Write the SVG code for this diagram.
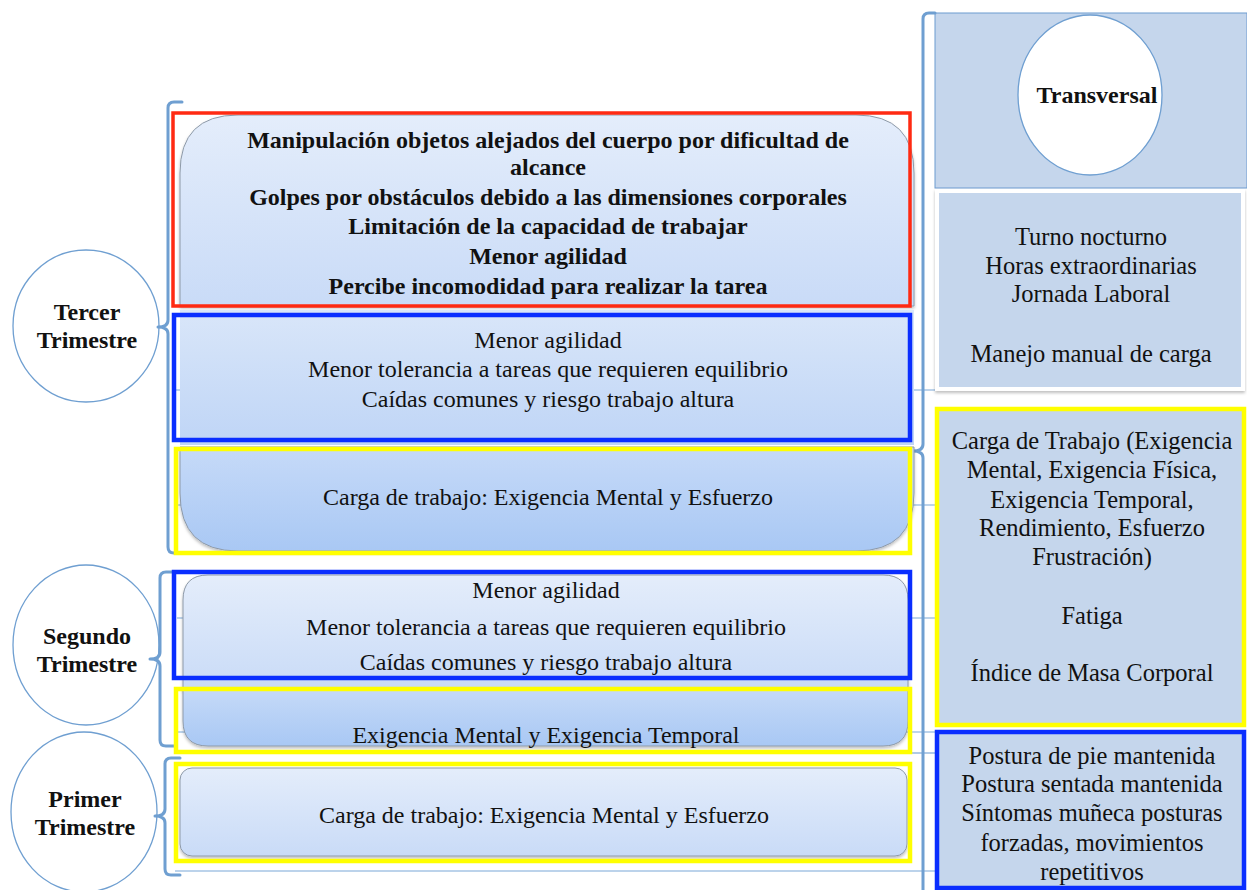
<svg xmlns="http://www.w3.org/2000/svg" width="1247" height="890" viewBox="0 0 1247 890">
  <defs>
    <linearGradient id="gLight" x1="0" y1="0" x2="0" y2="1">
      <stop offset="0" stop-color="#e4edfb"/>
      <stop offset="1" stop-color="#c9dbf7"/>
    </linearGradient>
    <linearGradient id="gMid" x1="0" y1="0" x2="0" y2="1">
      <stop offset="0" stop-color="#d9e6f9"/>
      <stop offset="1" stop-color="#bfd5f6"/>
    </linearGradient>
    <linearGradient id="gDark" x1="0" y1="0" x2="0" y2="1">
      <stop offset="0" stop-color="#c6daf8"/>
      <stop offset="1" stop-color="#a9c8f4"/>
    </linearGradient>
    <filter id="shadow" x="-5%" y="-5%" width="110%" height="115%">
      <feDropShadow dx="0" dy="2" stdDeviation="1.5" flood-color="#000" flood-opacity="0.25"/>
    </filter>
  </defs>
  <style>
    text { font-family: "Liberation Serif", "Times New Roman", serif; font-size: 24px; fill: #111; text-anchor: middle; }
    .b { font-weight: bold; }
    .r { font-size: 24.5px; }
    .brk { fill: none; stroke: #6f9fd1; stroke-width: 3; stroke-linejoin: round; stroke-linecap: round; }
    .circ { fill: #fff; stroke: #6f9fd1; stroke-width: 1.3; }
    .item { stroke: #8e9aa8; stroke-width: 1; filter: url(#shadow); }
    .conn { fill: none; stroke: #7ba7d7; stroke-width: 1.2; }
    .red { fill: none; stroke: #ff2a12; stroke-width: 3.5; }
    .blue { fill: none; stroke: #0a2eff; stroke-width: 4.5; }
    .yel { fill: none; stroke: #ffff00; stroke-width: 4.5; }
    .panel { fill: #c5d6ec; }
  </style>

  <rect width="1247" height="890" fill="#fff"/>

  <!-- separator lines of the bracket lists -->
  <g id="connectors">
    <line class="conn" x1="175" y1="390" x2="935" y2="390"/>
    <line class="conn" x1="177" y1="505" x2="935" y2="505"/>
    <line class="conn" x1="177" y1="618" x2="935" y2="618"/>
    <line class="conn" x1="177" y1="732" x2="935" y2="732"/>
    <line class="conn" x1="905" y1="753" x2="935" y2="753"/>
    <line class="conn" x1="175" y1="871" x2="935" y2="871"/>
  </g>

  <!-- right column: Transversal -->
  <g id="transversal">
    <rect class="panel" x="935" y="13" width="312" height="175" stroke="#6d9bd0" stroke-width="1"/>
    <path class="brk" d="M935 13 H929 Q923 13 923 19 V444 Q923 451 913 451 Q923 451 923 458 V890"/>
    <ellipse class="circ" cx="1090" cy="95" rx="72" ry="80"/>
    <text class="b" x="1097" y="103">Transversal</text>
  </g>

  <g id="t-jornada">
    <rect class="panel" x="937" y="191" width="306" height="198" stroke="#fff" stroke-width="4" filter="url(#shadow)"/>
    <text class="r" x="1091" y="245">Turno nocturno</text>
    <text class="r" x="1091" y="274">Horas extraordinarias</text>
    <text class="r" x="1091" y="302">Jornada Laboral</text>
    <text class="r" x="1091" y="362">Manejo manual de carga</text>
  </g>

  <g id="t-carga">
    <rect class="panel" x="937" y="409" width="307" height="316"/>
    <rect class="yel" x="937" y="409" width="307" height="316"/>
    <text class="r" x="1092" y="449">Carga de Trabajo (Exigencia</text>
    <text class="r" x="1092" y="478">Mental, Exigencia Física,</text>
    <text class="r" x="1092" y="508">Exigencia Temporal,</text>
    <text class="r" x="1092" y="536">Rendimiento, Esfuerzo</text>
    <text class="r" x="1092" y="565">Frustración)</text>
    <text class="r" x="1092" y="624">Fatiga</text>
    <text class="r" x="1092" y="681">Índice de Masa Corporal</text>
  </g>

  <g id="t-postura">
    <rect class="panel" x="937" y="732" width="307" height="156"/>
    <rect class="blue" x="937" y="732" width="307" height="156"/>
    <text class="r" x="1092" y="764">Postura de pie mantenida</text>
    <text class="r" x="1092" y="792">Postura sentada mantenida</text>
    <text class="r" x="1092" y="821">Síntomas muñeca posturas</text>
    <text class="r" x="1092" y="851">forzadas, movimientos</text>
    <text class="r" x="1092" y="880">repetitivos</text>
  </g>

  <!-- Tercer Trimestre -->
  <g id="tercer">
    <ellipse class="circ" cx="86" cy="326" rx="73" ry="76"/>
    <text class="b" x="87" y="320">Tercer</text>
    <text class="b" x="87" y="348">Trimestre</text>
    <path class="brk" d="M182 102 H174 Q168 102 168 108 V320 Q168 327 158 327 Q168 327 168 334 V547 Q168 553 174 553 H182"/>
  </g>

  <g id="tercer-1">
    <path class="item" fill="url(#gLight)" d="M180 306 V173 Q180 115 238 115 H856 Q914 115 914 173 V306 Z"/>
    <rect class="red" x="173" y="113" width="737" height="193"/>
    <text class="b" x="548" y="148">Manipulación objetos alejados del cuerpo por dificultad de</text>
    <text class="b" x="548" y="175">alcance</text>
    <text class="b" x="548" y="205">Golpes por obstáculos debido a las dimensiones corporales</text>
    <text class="b" x="548" y="234">Limitación de la capacidad de trabajar</text>
    <text class="b" x="548" y="264">Menor agilidad</text>
    <text class="b" x="548" y="294">Percibe incomodidad para realizar la tarea</text>
  </g>

  <g id="tercer-2">
    <rect fill="url(#gMid)" x="180" y="310" width="734" height="135"/>
    <rect class="blue" x="174" y="315" width="736" height="125"/>
    <text x="548" y="348">Menor agilidad</text>
    <text x="548" y="377">Menor tolerancia a tareas que requieren equilibrio</text>
    <text x="548" y="407">Caídas comunes y riesgo trabajo altura</text>
  </g>

  <g id="tercer-3">
    <path class="item" fill="url(#gDark)" d="M180 447 V493 Q180 551 238 551 H856 Q914 551 914 493 V447 Z"/>
    <rect class="yel" x="176" y="449" width="734" height="104"/>
    <text x="548" y="505">Carga de trabajo: Exigencia Mental y Esfuerzo</text>
  </g>

  <!-- Segundo Trimestre -->
  <g id="segundo">
    <ellipse class="circ" cx="86" cy="645" rx="73" ry="80"/>
    <text class="b" x="87" y="644">Segundo</text>
    <text class="b" x="87" y="672">Trimestre</text>
    <path class="brk" d="M175 572 H166 Q160 572 160 578 V652 Q160 659 150 659 Q160 659 160 666 V740 Q160 746 166 746 H175"/>
  </g>

  <g id="segundo-1">
    <path class="item" fill="url(#gLight)" d="M183 690 V600 Q183 575 208 575 H883 Q908 575 908 600 V690 Z"/>
    <rect class="blue" x="174" y="572" width="736" height="106"/>
    <text x="546" y="598">Menor agilidad</text>
    <text x="546" y="635">Menor tolerancia a tareas que requieren equilibrio</text>
    <text x="546" y="670">Caídas comunes y riesgo trabajo altura</text>
  </g>

  <g id="segundo-2">
    <path class="item" fill="url(#gDark)" d="M183 688 V721 Q183 746 208 746 H883 Q908 746 908 721 V688 Z"/>
    <rect class="yel" x="176" y="689" width="734" height="63"/>
    <text x="546" y="743">Exigencia Mental y Exigencia Temporal</text>
  </g>

  <!-- Primer Trimestre -->
  <g id="primer">
    <ellipse class="circ" cx="84" cy="812" rx="73" ry="80"/>
    <text class="b" x="85" y="807">Primer</text>
    <text class="b" x="85" y="835">Trimestre</text>
    <path class="brk" d="M180 758 H171 Q165 758 165 764 V809 Q165 816 155 816 Q165 816 165 823 V869 Q165 875 171 875 H180"/>
  </g>

  <g id="primer-1">
    <rect class="item" fill="url(#gLight)" x="180" y="768" width="727" height="88" rx="12"/>
    <rect class="yel" x="176" y="764" width="734" height="97"/>
    <text x="544" y="823">Carga de trabajo: Exigencia Mental y Esfuerzo</text>
  </g>
</svg>
